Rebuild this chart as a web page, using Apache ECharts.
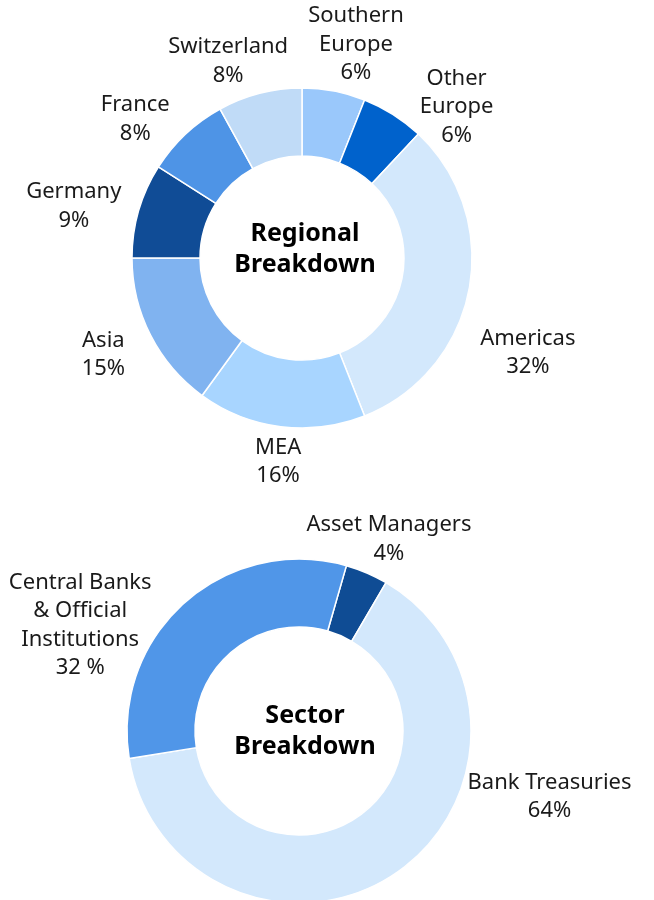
<!DOCTYPE html>
<html>
<head>
<meta charset="utf-8">
<title>Regional and Sector Breakdown</title>
<script src="https://cdn.jsdelivr.net/npm/echarts@6/dist/echarts.min.js"></script>
<style>
    html, body { margin: 0; padding: 0; background: #ffffff; }
    #main { width: 654px; height: 900px; }
</style>
</head>
<body>
<div id="main"></div>
<script>
// Regional breakdown (clockwise from 12 o'clock)
const regionNames = ['Southern\nEurope', 'Other\nEurope', 'Americas', 'MEA', 'Asia', 'Germany', 'France', 'Switzerland'];
const regionValues = [6, 6, 32, 16, 15, 9, 8, 8];
const regionColors = ['#9ac8fb', '#0062cc', '#d3e8fc', '#a8d5ff', '#80b3f0', '#104c96', '#4e94e6', '#c0dbf7'];

// Sector breakdown (clockwise, starting just right of 12 o'clock)
const sectorNames = ['Asset Managers', 'Bank Treasuries', 'Central Banks\n& Official\nInstitutions'];
const sectorValues = [4, 64, 32];
const sectorPctLabels = ['4%', '64%', '32 %'];
const sectorColors = ['#0f4c94', '#d3e8fc', '#5096e8'];

document.addEventListener("DOMContentLoaded", function () {
    var chartDom = document.getElementById('main');
    var myChart = echarts.init(chartDom, null, { renderer: 'canvas' });

    // donut geometry
    const donuts = [
        { cx: 302, cy: 258, r: [102, 170], startAngle: 90 },
        { cx: 299, cy: 731, r: [104, 172], startAngle: 74 }
    ];

    // where each label sits: [angle clockwise from top (deg), distance from centre (px)]
    const labelSpots = [
        [[14.2, 220], [45.7, 216], [112.8, 245], [186.7, 205], [244, 221], [282.8, 234], [309.8, 217], [339.4, 210]],
        [[25.1, 212], [104.7, 259], [295.8, 243]]
    ];

    const textStyle = {
        color: '#1a1a1a',
        fontFamily: 'Noto Sans',
        fontSize: 22,
        lineHeight: 28.5
    };

    function placeLabel(params) {
        const d = donuts[params.seriesIndex];
        const spot = labelSpots[params.seriesIndex][params.dataIndex];
        const a = spot[0] * Math.PI / 180;
        return {
            x: d.cx + spot[1] * Math.sin(a),
            y: d.cy - spot[1] * Math.cos(a),
            align: 'center',
            verticalAlign: 'middle'
        };
    }

    const regionData = regionNames.map(function (name, i) {
        return { name: name, value: regionValues[i], itemStyle: { color: regionColors[i] } };
    });
    const sectorData = sectorNames.map(function (name, i) {
        return { name: name, value: sectorValues[i], itemStyle: { color: sectorColors[i] } };
    });

    const option = {
        backgroundColor: '#ffffff',
        animation: false,
        graphic: [
            {
                type: 'text', x: donuts[0].cx + 3, y: donuts[0].cy - 9,
                style: {
                    text: 'Regional\nBreakdown', fill: '#000000', font: 'bold 25px "Noto Sans"',
                    lineHeight: 31, align: 'center', verticalAlign: 'middle'
                }
            },
            {
                type: 'text', x: donuts[1].cx + 6, y: donuts[1].cy,
                style: {
                    text: 'Sector\nBreakdown', fill: '#000000', font: 'bold 25px "Noto Sans"',
                    lineHeight: 31, align: 'center', verticalAlign: 'middle'
                }
            }
        ],
        series: [
            {
                type: 'pie',
                center: [donuts[0].cx, donuts[0].cy],
                radius: donuts[0].r,
                startAngle: donuts[0].startAngle,
                clockwise: true,
                avoidLabelOverlap: false,
                silent: true,
                itemStyle: { borderColor: '#ffffff', borderWidth: 1.5 },
                label: Object.assign({ show: true, position: 'outside', formatter: '{b}\n{c}%' }, textStyle),
                labelLine: { show: false },
                labelLayout: placeLabel,
                data: regionData
            },
            {
                type: 'pie',
                center: [donuts[1].cx, donuts[1].cy],
                radius: donuts[1].r,
                startAngle: donuts[1].startAngle,
                clockwise: true,
                avoidLabelOverlap: false,
                silent: true,
                itemStyle: { borderColor: '#ffffff', borderWidth: 1.5 },
                label: Object.assign({
                    show: true,
                    position: 'outside',
                    formatter: function (p) {
                        return p.name + '\n' + sectorPctLabels[p.dataIndex];
                    }
                }, textStyle),
                labelLine: { show: false },
                labelLayout: placeLabel,
                data: sectorData
            }
        ]
    };

    option && myChart.setOption(option);
});
</script>
</body>
</html>
